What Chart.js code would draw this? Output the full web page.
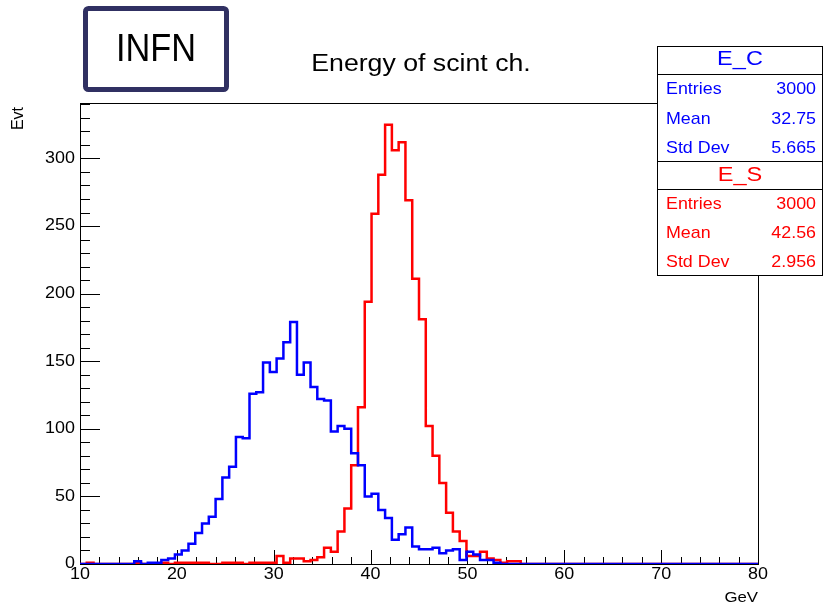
<!DOCTYPE html>
<html>
<head>
<meta charset="utf-8">
<script src="https://cdn.jsdelivr.net/npm/chart.js@4.4.1/dist/chart.umd.min.js"></script>
<style>
  html, body { margin: 0; padding: 0; background: #fff; }
</style>
</head>
<body>
<canvas id="c" width="823" height="608"></canvas>
<script>
// histogram binning: 100 bins between 10 and 80 GeV
const xMin = 10, xMax = 80, nBins = 100;
const yMax = 341;

// E_C (blue) bin contents
const eC = [
  0, 0, 0, 0, 0, 0, 0, 0, 2, 0,
  1, 1, 3, 4, 7, 10, 15, 23, 30, 35,
  48, 64, 72, 94, 93, 126, 127, 149, 142, 152,
  164, 179, 140, 149, 131, 122, 121, 98, 102, 100,
  82, 73, 50, 52, 40, 34, 18, 22, 27, 13,
  11, 11, 12, 8, 10, 11, 3, 9, 7, 3,
  3, 1, 0, 0, 0, 0, 0, 0, 0, 0,
  0, 0, 0, 0, 0, 0, 0, 0, 0, 0,
  0, 0, 0, 0, 0, 0, 0, 0, 0, 0,
  0, 0, 0, 0, 0, 0, 0, 0, 0, 0
];

// E_S (red) bin contents
const eS = [
  0, 1, 0, 0, 0, 0, 0, 0, 1, 0,
  0, 0, 1, 0, 1, 1, 1, 1, 1, 0,
  0, 1, 1, 1, 0, 1, 1, 1, 1, 6,
  1, 4, 4, 2, 3, 5, 12, 9, 24, 41,
  73, 116, 194, 259, 288, 325, 306, 312, 269, 211,
  181, 102, 80, 60, 38, 24, 17, 6, 6, 9,
  4, 3, 1, 2, 2, 0, 0, 0, 0, 0,
  0, 0, 0, 0, 0, 0, 0, 0, 0, 0,
  0, 0, 0, 0, 0, 0, 0, 0, 0, 0,
  0, 0, 0, 0, 0, 0, 0, 0, 0, 0
];

const xTickLabels = [10, 20, 30, 40, 50, 60, 70, 80];
const yTickLabels = [0, 50, 100, 150, 200, 250, 300];

const statsC = [['Entries', '3000'], ['Mean', '32.75'], ['Std Dev', '5.665']];
const statsS = [['Entries', '3000'], ['Mean', '42.56'], ['Std Dev', '2.956']];

const FONT = '"Liberation Sans", Arial, Helvetica, sans-serif';
const BLUE = '#0000ff';
const RED = '#ff0000';

// left bin edges + closing edge, drawn as step line
function histPoints(counts) {
  const w = (xMax - xMin) / nBins;
  const pts = counts.map((v, i) => ({x: xMin + i * w, y: v}));
  pts.push({x: xMax, y: counts[counts.length - 1]});
  return pts;
}

function text(ctx, str, x, y, o) {
  ctx.save();
  ctx.font = (o.size || 16) + 'px ' + FONT;
  ctx.fillStyle = o.color || '#000';
  ctx.textAlign = o.align || 'left';
  ctx.textBaseline = o.baseline || 'middle';
  ctx.translate(x, y);
  if (o.rotate) ctx.rotate(o.rotate);
  ctx.scale(o.sx || 1, 1);
  ctx.fillText(str, 0, 0);
  ctx.restore();
}

const framePlugin = {
  id: 'rootFrame',
  beforeDatasetsDraw(chart) {
    const ctx = chart.ctx;
    const {left, right, top, bottom} = chart.chartArea;
    const xs = chart.scales.x, ys = chart.scales.y;
    ctx.save();
    ctx.strokeStyle = '#000';
    ctx.lineWidth = 1;
    ctx.strokeRect(left + 0.5, top + 0.5, right - left, bottom - top);

    ctx.beginPath();
    for (let v = xMin; v <= xMax; v += 2) {
      const px = Math.round(xs.getPixelForValue(v)) + 0.5;
      const len = v % 10 === 0 ? 14 : 7;
      ctx.moveTo(px, bottom);
      ctx.lineTo(px, bottom - len);
    }
    for (let v = 0; v <= 340; v += 10) {
      const py = Math.round(ys.getPixelForValue(v)) + 0.5;
      const len = v % 50 === 0 ? 20 : 10;
      ctx.moveTo(left, py);
      ctx.lineTo(left + len, py);
    }
    ctx.stroke();
    ctx.restore();

    xTickLabels.forEach(v => {
      text(ctx, String(v), xs.getPixelForValue(v), bottom + 11, {size: 16, align: 'center', sx: 1.12});
    });
    yTickLabels.forEach(v => {
      text(ctx, String(v), left - 5, ys.getPixelForValue(v), {size: 16, align: 'right', sx: 1.12});
    });

    text(ctx, 'GeV', right, 598, {size: 15, align: 'right', sx: 1.12});
    text(ctx, 'Evt', 19, top + 4, {size: 16, align: 'right', rotate: -Math.PI / 2});
  },
  afterDraw(chart) {
    const ctx = chart.ctx;

    // title
    text(ctx, 'Energy of scint ch.', 421, 71, {size: 23, align: 'center', baseline: 'alphabetic', sx: 1.16});

    // INFN label box
    ctx.save();
    ctx.strokeStyle = '#303062';
    ctx.lineWidth = 5;
    ctx.beginPath();
    ctx.roundRect(85.5, 8.5, 141, 81, 3);
    ctx.stroke();
    ctx.restore();
    text(ctx, 'INFN', 156, 50, {size: 39, align: 'center', sx: 0.88});

    // stats boxes
    const bx0 = 657.5, bx1 = 822.5;
    ctx.save();
    ctx.fillStyle = '#fff';
    ctx.fillRect(bx0, 46.5, bx1 - bx0, 229);
    ctx.strokeStyle = '#000';
    ctx.lineWidth = 1;
    ctx.strokeRect(bx0, 46.5, bx1 - bx0, 229);
    ctx.beginPath();
    [74.5, 161.5, 189.5].forEach(y => { ctx.moveTo(bx0, y); ctx.lineTo(bx1, y); });
    ctx.stroke();
    ctx.restore();

    const drawStats = (name, rows, color, headY, rowY) => {
      text(ctx, name, 740, headY, {size: 21, align: 'center', color, sx: 1.12});
      rows.forEach((r, i) => {
        text(ctx, r[0], 666, rowY[i], {size: 17, color, sx: 1.05});
        text(ctx, r[1], 816, rowY[i], {size: 17, align: 'right', color, sx: 1.05});
      });
    };
    drawStats('E_C', statsC, BLUE, 59, [89.5, 119, 148]);
    drawStats('E_S', statsS, RED, 175.5, [204, 233.5, 262]);
  }
};

new Chart(document.getElementById('c'), {
  type: 'line',
  data: {
    datasets: [
      {
        label: 'E_C',
        data: histPoints(eC),
        borderColor: BLUE,
        borderWidth: 2.5,
        stepped: true,
        pointRadius: 0,
        fill: false,
        order: 0
      },
      {
        label: 'E_S',
        data: histPoints(eS),
        borderColor: RED,
        borderWidth: 2.5,
        stepped: true,
        pointRadius: 0,
        fill: false,
        order: 1
      }
    ]
  },
  options: {
    responsive: false,
    animation: false,
    devicePixelRatio: 1,
    layout: {padding: {left: 80, right: 65, top: 103, bottom: 44}},
    plugins: {legend: {display: false}, tooltip: {enabled: false}, title: {display: false}},
    scales: {
      x: {type: 'linear', min: xMin, max: xMax, display: false},
      y: {type: 'linear', min: 0, max: yMax, display: false}
    }
  },
  plugins: [framePlugin]
});
</script>
</body>
</html>
